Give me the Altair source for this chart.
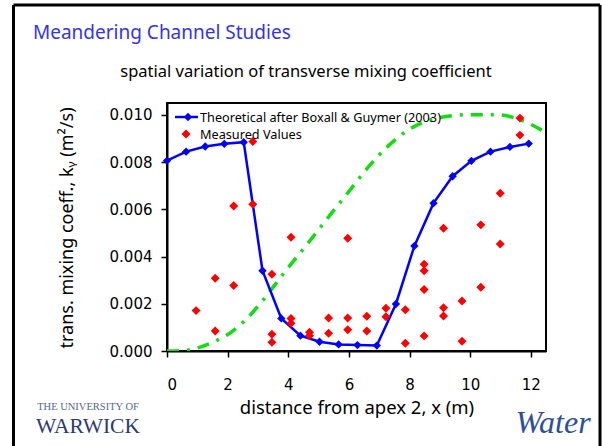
import altair as alt
import pandas as pd

# ---- data ----
theory_x = [0.0, 0.63, 1.26, 1.89, 2.53, 3.15, 3.77, 4.40, 5.03, 5.66,
            6.28, 6.92, 7.55, 8.16, 8.79, 9.42, 10.04, 10.67, 11.31, 11.93]
theory_k = [0.00806, 0.00844, 0.00866, 0.00877, 0.00884, 0.00340, 0.00138, 0.00065, 0.00039, 0.00028,
            0.00025, 0.00023, 0.00199, 0.00445, 0.00626, 0.00740, 0.00805, 0.00844, 0.00864, 0.00878]

meas_x = [0.96, 1.59, 1.59, 2.20, 2.20, 2.83, 2.83, 3.46, 3.46, 3.46,
          4.09, 4.09, 4.09, 4.70, 4.70, 5.33, 5.33, 5.96, 5.96, 5.96,
          6.59, 6.59, 7.22, 7.22, 7.86, 7.86, 8.48, 8.48, 8.48, 8.48,
          9.12, 9.12, 9.12, 9.73, 9.73, 10.35, 10.35, 10.99, 10.99, 11.64, 11.64]
meas_k = [0.00171, 0.00308, 0.00085, 0.00614, 0.00277, 0.00887, 0.00621, 0.00325, 0.00071, 0.00037,
          0.00482, 0.00138, 0.00117, 0.00079, 0.00065, 0.00140, 0.00075, 0.00477, 0.00140, 0.00090,
          0.00147, 0.00085, 0.00181, 0.00145, 0.00175, 0.00033, 0.00367, 0.00340, 0.00260, 0.00064,
          0.00520, 0.00183, 0.00148, 0.00212, 0.00041, 0.00534, 0.00270, 0.00668, 0.00453, 0.00986, 0.00914]

curve_x = [0.0, 0.55, 1.59, 1.98, 2.53, 3.19, 3.85, 4.56, 5.38, 6.04,
           6.70, 7.80, 8.90, 9.89, 10.88, 11.65, 12.5]
curve_k = [0.0, 0.00002, 0.00042, 0.00068, 0.00124, 0.00219, 0.00329, 0.00442, 0.00576, 0.00682,
           0.00788, 0.00922, 0.00986, 0.01000, 0.01000, 0.00979, 0.00925]

x_ticks = [0, 2, 4, 6, 8, 10, 12]
y_ticks = [0.0, 0.002, 0.004, 0.006, 0.008, 0.010]

theory = pd.DataFrame({"x": theory_x, "k": theory_k})
meas = pd.DataFrame({"x": meas_x, "k": meas_k})
curve = pd.DataFrame({"x": curve_x, "k": curve_k})

W, H = 379, 248
PL, PT = 167, 103

xs = alt.Scale(domain=[0, 12.5], nice=False, zero=False)
ys = alt.Scale(domain=[0, 0.0105], nice=False)

xax = alt.Axis(values=x_ticks, title=None, grid=False, tickSize=6, labelPadding=20,
               labelFont="DejaVu Sans", labelFontSize=15, labelColor="black",
               domainColor="black", domainWidth=2, tickColor="black", tickWidth=1.5)
yax = alt.Axis(values=y_ticks, format=".3f", title=None, grid=False, tickSize=6, labelPadding=9,
               labelFont="DejaVu Sans", labelFontSize=15, labelColor="black",
               domainColor="black", domainWidth=2, tickColor="black", tickWidth=1.5)

X = alt.X("x:Q", scale=xs, axis=xax)
Y = alt.Y("k:Q", scale=ys, axis=yax)

green = alt.Chart(curve).mark_line(color="#11dd11", strokeWidth=3.5, strokeDash=[12, 8, 3, 8],
                                   interpolate="monotone", clip=True).encode(x=X, y=Y)
blue_line = alt.Chart(theory).mark_line(color="#0000ff", strokeWidth=2.5).encode(x=X, y=Y)
blue_pts = alt.Chart(theory).mark_point(shape="diamond", filled=True, color="#0000ff",
                                        size=70, opacity=1).encode(x=X, y=Y)
red_pts = alt.Chart(meas).mark_point(shape="diamond", filled=True, color="#ff0000",
                                     size=80, opacity=1).encode(x=X, y=Y)

one = pd.DataFrame({"d": [0]})


def txt(s, px, py, size, color="black", font="Noto Sans", align="left", angle=0,
        weight="normal", style="normal"):
    return alt.Chart(one).mark_text(text=s, align=align, baseline="middle", font=font,
                                    fontSize=size, color=color, angle=angle,
                                    fontWeight=weight, fontStyle=style).encode(
        x=alt.value(px - PL), y=alt.value(py - PT))


def rule(x1, y1, x2, y2, color="black", w=3):
    return alt.Chart(one).mark_rule(color=color, strokeWidth=w).encode(
        x=alt.value(x1 - PL), y=alt.value(y1 - PT), x2=alt.value(x2 - PL), y2=alt.value(y2 - PT))


# legend (drawn)
leg_line = rule(175, 117, 198, 117, color="#0000ff", w=2.5)
leg_bdot = alt.Chart(one).mark_point(shape="diamond", filled=True, color="#0000ff", size=70,
                                     opacity=1).encode(x=alt.value(188 - PL), y=alt.value(117 - PT))
leg_rdot = alt.Chart(one).mark_point(shape="diamond", filled=True, color="#ff0000", size=80,
                                     opacity=1).encode(x=alt.value(186 - PL), y=alt.value(134 - PT))
leg_t1 = txt("Theoretical after Boxall & Guymer (2003)", 200, 118, 12.7)
leg_t2 = txt("Measured Values", 200, 135, 12.7)

title = txt("Meandering Channel Studies", 33, 33, 19, color="#3333ee")
subtitle = txt("spatial variation of transverse mixing coefficient", 306, 72, 16.5, align="center")
ytitle = txt("trans. mixing coeff., kᵧ (m²/s)", 68, 228, 18, align="center", angle=270)
xtitle = txt("distance from apex 2, x (m)", 357, 408, 18.5, align="center")

warwick1 = txt("THE UNIVERSITY OF", 88, 407, 10.5, color="#5a6590", font="Liberation Serif",
               align="center")
warwick2 = txt("WARWICK", 88, 427, 21.5, color="#2c3a72", font="Liberation Serif", align="center")
water = txt("Water", 553, 423, 32, color="#2c4f9c", font="Liberation Serif", align="center",
            style="italic")

frame = [rule(13.5, 5, 13.5, 446), rule(13.5, 5, 600, 5), rule(600, 5, 600, 446)]

chart = alt.layer(
    green, blue_line, blue_pts, red_pts,
    leg_line, leg_bdot, leg_rdot, leg_t1, leg_t2,
    title, subtitle, ytitle, xtitle, warwick1, warwick2, water,
    *frame
).properties(
    width=W, height=H,
    autosize=alt.AutoSizeParams(type="none"),
    padding={"left": PL, "top": PT, "right": 602 - PL - W, "bottom": 446 - PT - H},
    background="white",
).configure_view(stroke="black", strokeWidth=2)

chart.save("out.html", embed_options={"renderer": "svg", "actions": False})
